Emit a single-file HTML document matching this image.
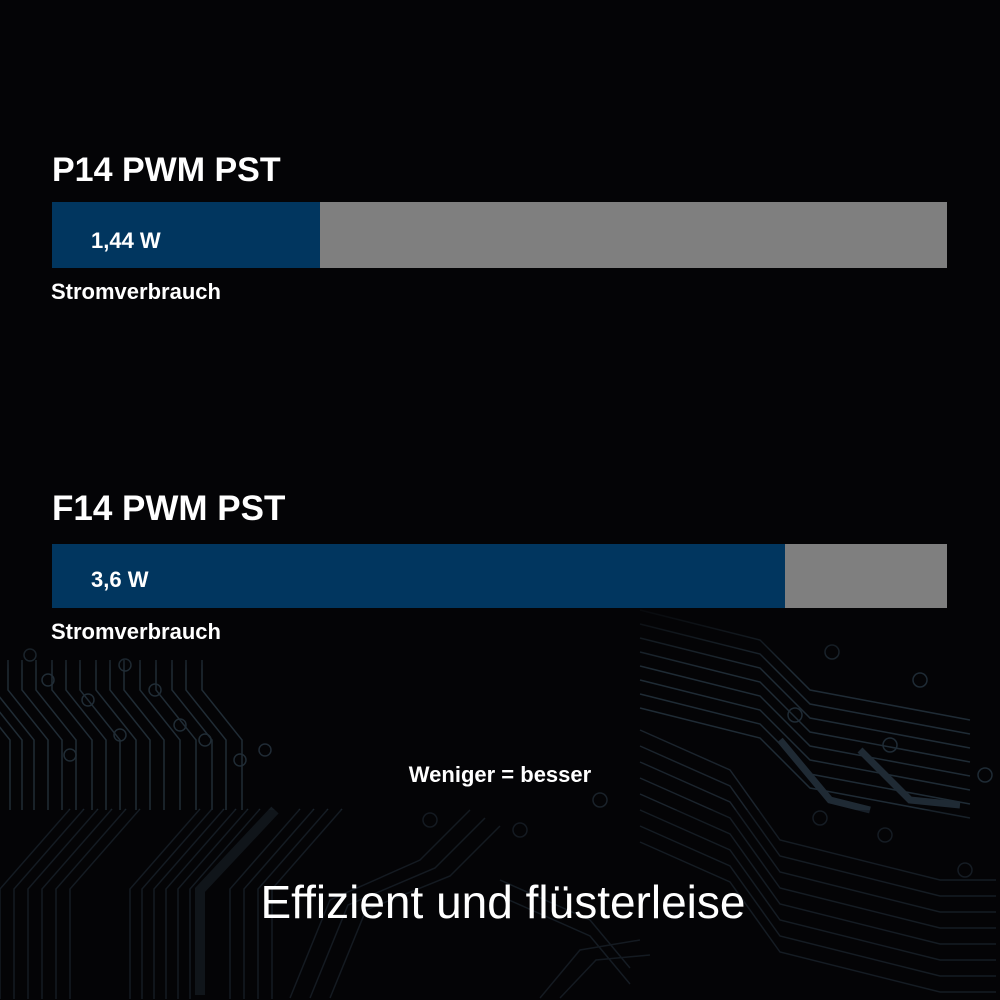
<!DOCTYPE html>
<html>
<head>
<meta charset="utf-8">
<style>
  html, body { margin: 0; padding: 0; background: #040406; width: 1000px; height: 1000px; overflow: hidden; }
  svg { display: block; }
</style>
</head>
<body>
<svg width="1000" height="1000" viewBox="0 0 1000 1000" xmlns="http://www.w3.org/2000/svg">
  <defs>
    <linearGradient id="fadeTop" x1="0" y1="0" x2="0" y2="1">
      <stop offset="0" stop-color="#040406" stop-opacity="1"/>
      <stop offset="1" stop-color="#040406" stop-opacity="0"/>
    </linearGradient>
    <path id="lt" d="M0,0 L0,-70 L-40,-120 L-40,-150" fill="none"/>
    <path id="lb" d="M0,0 L0,-110 L70,-190" fill="none"/>
    <path id="rt" d="M0,0 L120,30 L170,80 L330,110" fill="none"/>
    <path id="rb" d="M0,0 L90,40 L140,110 L300,150 L356,150" fill="none"/>
    <path id="rs" d="M0,0 L90,40 L130,88" fill="none"/>
  </defs>

  <rect x="0" y="0" width="1000" height="1000" fill="#040406"/>

  <!-- circuit pattern: upper-left block (y 640-810) -->
  <g stroke="#26333e" stroke-width="1.5" fill="none" opacity="0.85">
    <use href="#lt" x="10" y="810"/>
    <use href="#lt" x="22" y="810"/>
    <use href="#lt" x="34" y="810"/>
    <use href="#lt" x="48" y="810"/>
    <use href="#lt" x="62" y="810"/>
    <use href="#lt" x="76" y="810"/>
    <use href="#lt" x="92" y="810"/>
    <use href="#lt" x="106" y="810"/>
    <use href="#lt" x="120" y="810"/>
    <use href="#lt" x="136" y="810"/>
    <use href="#lt" x="150" y="810"/>
    <use href="#lt" x="164" y="810"/>
    <use href="#lt" x="180" y="810"/>
    <use href="#lt" x="196" y="810"/>
    <use href="#lt" x="212" y="810"/>
    <use href="#lt" x="226" y="810"/>
    <use href="#lt" x="242" y="810"/>
    <circle cx="48" cy="680" r="6"/>
    <circle cx="88" cy="700" r="6"/>
    <circle cx="70" cy="755" r="6"/>
    <circle cx="120" cy="735" r="6"/>
    <circle cx="155" cy="690" r="6"/>
    <circle cx="125" cy="665" r="6"/>
    <circle cx="180" cy="725" r="6"/>
    <circle cx="205" cy="740" r="6"/>
    <circle cx="240" cy="760" r="6"/>
    <circle cx="265" cy="750" r="6"/>
    <circle cx="30" cy="655" r="6"/>
  </g>

  <!-- lower-left block (below 810) -->
  <g stroke="#1a232b" stroke-width="1.5" fill="none">
    <use href="#lb" x="0" y="999"/>
    <use href="#lb" x="14" y="999"/>
    <use href="#lb" x="28" y="999"/>
    <use href="#lb" x="42" y="999"/>
    <use href="#lb" x="56" y="999"/>
    <use href="#lb" x="70" y="999"/>
    <use href="#lb" x="130" y="999"/>
    <use href="#lb" x="142" y="999"/>
    <use href="#lb" x="154" y="999"/>
    <use href="#lb" x="166" y="999"/>
    <use href="#lb" x="178" y="999"/>
    <use href="#lb" x="190" y="999"/>
    <use href="#lb" x="230" y="999"/>
    <use href="#lb" x="244" y="999"/>
    <use href="#lb" x="258" y="999"/>
    <use href="#lb" x="272" y="999"/>
  </g>
  <path d="M200,995 L200,890 L275,810" stroke="#141b21" stroke-width="10" fill="none"/>

  <!-- right side bundles -->
  <g stroke="#22303b" stroke-width="1.5" fill="none" opacity="0.9">
    <use href="#rt" x="640" y="610"/>
    <use href="#rt" x="640" y="624"/>
    <use href="#rt" x="640" y="638"/>
    <use href="#rt" x="640" y="652"/>
    <use href="#rt" x="640" y="666"/>
    <use href="#rt" x="640" y="680"/>
    <use href="#rt" x="640" y="694"/>
    <use href="#rt" x="640" y="708"/>
    <circle cx="832" cy="652" r="7"/>
    <circle cx="920" cy="680" r="7"/>
    <circle cx="890" cy="745" r="7"/>
    <circle cx="985" cy="775" r="7"/>
    <circle cx="795" cy="715" r="7"/>
  </g>
  <g stroke="#1b242d" stroke-width="1.5" fill="none">
    <use href="#rb" x="640" y="730"/>
    <use href="#rb" x="640" y="746"/>
    <use href="#rb" x="640" y="762"/>
    <use href="#rb" x="640" y="778"/>
    <use href="#rb" x="640" y="794"/>
    <use href="#rb" x="640" y="810"/>
    <use href="#rb" x="640" y="826"/>
    <use href="#rb" x="640" y="842"/>
    <use href="#rs" x="500" y="880"/>
    <use href="#rs" x="500" y="896"/>
    <circle cx="820" cy="818" r="7"/>
    <circle cx="885" cy="835" r="7"/>
    <circle cx="965" cy="870" r="7"/>
  </g>
  <path d="M780,740 L830,800 L870,810" stroke="#1f2a34" stroke-width="7" fill="none"/>
  <path d="M860,750 L910,800 L960,805" stroke="#1f2a34" stroke-width="7" fill="none"/>

  <!-- faint middle traces -->
  <g stroke="#1a222a" stroke-width="1.5" fill="none">
    <path d="M290,998 L330,900 L420,860 L470,810"/>
    <path d="M310,998 L348,905 L435,868 L485,818"/>
    <path d="M330,998 L366,910 L450,876 L500,826"/>
    <path d="M540,998 L580,950 L640,940"/>
    <path d="M560,998 L596,960 L650,955"/>
    <circle cx="430" cy="820" r="7"/>
    <circle cx="520" cy="830" r="7"/>
    <circle cx="600" cy="800" r="7"/>
  </g>

  <!-- band at 810: lower region slightly dimmer overlay -->
  <rect x="0" y="810" width="1000" height="190" fill="#040406" opacity="0.25"/>
  <rect x="0" y="600" width="1000" height="70" fill="url(#fadeTop)"/>

  <!-- Bars -->
  <rect x="52" y="202" width="895" height="66" fill="#7f7f7f"/>
  <rect x="52" y="202" width="268" height="66" fill="#01365f"/>
  <rect x="52" y="544" width="895" height="64" fill="#7f7f7f"/>
  <rect x="52" y="544" width="733" height="64" fill="#01365f"/>

  <!-- Text -->
  <g font-family="Liberation Sans, Arial, sans-serif" fill="#ffffff">
    <text x="52" y="181" font-size="34" font-weight="bold">P14 PWM PST</text>
    <text x="91" y="248" font-size="22" font-weight="bold">1,44 W</text>
    <text x="51" y="299" font-size="22" font-weight="bold">Stromverbrauch</text>

    <text x="52" y="520" font-size="35" font-weight="bold">F14 PWM PST</text>
    <text x="91" y="587" font-size="22" font-weight="bold">3,6 W</text>
    <text x="51" y="639" font-size="22" font-weight="bold">Stromverbrauch</text>

    <text x="500" y="782" font-size="22" font-weight="bold" text-anchor="middle">Weniger = besser</text>
    <text x="503" y="918" font-size="46" text-anchor="middle">Effizient und flüsterleise</text>
  </g>
</svg>
</body>
</html>
